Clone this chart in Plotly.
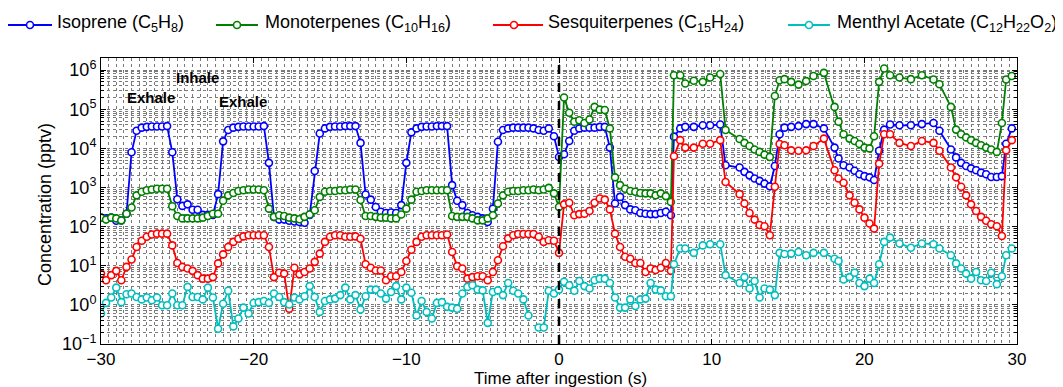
import plotly.graph_objects as go

# ---------------- data ----------------
time_s = [
    -30.0, -29.67, -29.33, -29.0, -28.67, -28.33, -28.0, -27.67, -27.33, -27.0, -26.67, -26.33,
    -26.0, -25.67, -25.33, -25.0, -24.67, -24.33, -24.0, -23.67, -23.33, -23.0, -22.67, -22.33,
    -22.0, -21.67, -21.33, -21.0, -20.67, -20.33, -20.0, -19.67, -19.33, -19.0, -18.67, -18.33,
    -18.0, -17.67, -17.33, -17.0, -16.67, -16.33, -16.0, -15.67, -15.33, -15.0, -14.67, -14.33,
    -14.0, -13.67, -13.33, -13.0, -12.67, -12.33, -12.0, -11.67, -11.33, -11.0, -10.67, -10.33,
    -10.0, -9.67, -9.33, -9.0, -8.67, -8.33, -8.0, -7.67, -7.33, -7.0, -6.67, -6.33,
    -6.0, -5.67, -5.33, -5.0, -4.67, -4.33, -4.0, -3.67, -3.33, -3.0, -2.67, -2.33,
    -2.0, -1.67, -1.33, -1.0, -0.67, -0.33, 0.0, 0.33, 0.67, 1.0, 1.33, 1.67,
    2.0, 2.33, 2.67, 3.0, 3.33, 3.67, 4.0, 4.33, 4.67, 5.0, 5.33, 5.67,
    6.0, 6.33, 6.67, 7.0, 7.33,
    7.53, 7.94, 8.27, 8.83, 9.42, 9.90, 10.56, 10.91, 11.83, 12.15, 12.48, 12.81,
    13.14, 13.46, 13.81, 14.14, 14.45, 14.77, 15.21, 15.69, 16.19, 16.67, 17.35, 18.05,
    18.31, 18.64, 19.03, 19.36, 19.68, 20.01, 20.34, 20.64, 20.97, 21.30, 21.69, 22.30,
    23.05, 23.77, 24.53, 24.92, 25.67, 26.01, 26.34, 26.67, 26.99, 27.32, 27.65, 27.98,
    28.31, 28.68, 29.01, 29.29, 29.66,
]

# concentrations as log10(pptv)
isoprene_log10 = [
    2.23, 2.21, 2.23, 2.15, 2.16, 2.33, 3.90, 4.45, 4.53, 4.55,
    4.56, 4.56, 4.56, 4.57, 3.90, 2.70, 2.53, 2.57, 2.43, 2.43,
    2.30, 2.30, 2.30, 2.83, 4.18, 4.47, 4.53, 4.55, 4.56, 4.56,
    4.56, 4.56, 4.57, 3.63, 2.25, 2.18, 2.18, 2.15, 2.13, 2.12,
    2.10, 2.30, 3.42, 4.38, 4.51, 4.55, 4.56, 4.56, 4.57, 4.57,
    4.57, 4.14, 2.82, 2.69, 2.50, 2.38, 2.35, 2.36, 2.35, 2.55,
    3.63, 4.41, 4.51, 4.55, 4.56, 4.56, 4.57, 4.57, 4.57, 3.06,
    2.66, 2.55, 2.35, 2.29, 2.25, 2.21, 2.12, 2.46, 4.17, 4.47,
    4.51, 4.53, 4.53, 4.53, 4.53, 4.51, 4.47, 4.45, 4.51, 4.31,
    3.78, 3.85, 4.19, 4.45, 4.51, 4.53, 4.53, 4.53, 4.55, 4.55,
    4.02, 2.59, 2.76, 2.55, 2.44, 2.42, 2.35, 2.33, 2.32, 2.32,
    2.35, 2.38, 2.29,
    4.30, 4.51, 4.55, 4.55, 4.59, 4.59, 4.61, 3.57, 3.51, 3.40, 3.31, 3.23,
    3.17, 3.10, 3.03, 3.55, 4.36, 4.53, 4.55, 4.57, 4.62, 4.62, 4.51, 4.02,
    3.74, 3.57, 3.51, 3.43, 3.34, 3.29, 3.26, 3.19, 3.94, 4.48, 4.61, 4.59,
    4.59, 4.62, 4.65, 4.45, 3.97, 3.77, 3.63, 3.55, 3.49, 3.44, 3.38, 3.34,
    3.27, 3.27, 3.29, 4.12, 4.51,
]

monoterpenes_log10 = [
    2.23, 2.18, 2.23, 2.21, 2.16, 2.33, 2.49, 2.80, 2.89, 2.93,
    2.95, 2.97, 2.97, 2.97, 2.52, 2.27, 2.21, 2.21, 2.21, 2.21,
    2.23, 2.27, 2.33, 2.33, 2.66, 2.80, 2.86, 2.91, 2.93, 2.95,
    2.95, 2.95, 2.93, 2.46, 2.25, 2.29, 2.27, 2.23, 2.21, 2.19,
    2.25, 2.31, 2.42, 2.76, 2.89, 2.91, 2.91, 2.93, 2.93, 2.95,
    2.95, 2.68, 2.27, 2.27, 2.25, 2.23, 2.23, 2.21, 2.21, 2.31,
    2.46, 2.69, 2.89, 2.91, 2.93, 2.93, 2.93, 2.93, 2.93, 2.27,
    2.25, 2.25, 2.25, 2.21, 2.16, 2.16, 2.21, 2.29, 2.59, 2.80,
    2.89, 2.91, 2.91, 2.93, 2.93, 2.95, 2.93, 2.95, 2.99, 2.85,
    2.50, 5.30, 4.91, 4.68, 4.72, 4.65, 4.74, 5.06, 4.99, 4.98,
    4.51, 3.26, 3.06, 2.97, 2.91, 2.89, 2.86, 2.85, 2.85, 2.80,
    2.85, 2.78, 2.63,
    5.87, 5.87, 5.66, 5.73, 5.70, 5.81, 5.90, 4.47, 4.24, 4.14, 4.06, 3.97,
    3.91, 3.84, 3.78, 5.34, 5.74, 5.77, 5.70, 5.63, 5.72, 5.85, 5.93, 5.06,
    4.68, 4.36, 4.25, 4.19, 4.11, 4.02, 4.00, 4.31, 5.70, 6.04, 5.87, 5.81,
    5.77, 5.87, 5.76, 5.64, 5.06, 4.48, 4.36, 4.28, 4.21, 4.14, 4.08, 4.02,
    3.97, 3.91, 4.65, 5.76, 5.85,
]

sesquiterpenes_log10 = [
    0.80, 0.63, 0.76, 0.87, 0.63, 0.97, 1.16, 1.48, 1.64, 1.74,
    1.80, 1.82, 1.82, 1.82, 1.52, 1.07, 0.97, 0.93, 0.87, 0.76,
    0.67, 0.67, 0.71, 1.06, 1.29, 1.48, 1.61, 1.69, 1.75, 1.78,
    1.78, 1.78, 1.78, 1.48, 0.71, 0.82, 0.80, -0.10, 0.95, 0.78,
    0.84, 0.93, 1.10, 1.31, 1.61, 1.74, 1.78, 1.78, 1.74, 1.74,
    1.75, 1.69, 1.04, 0.95, 0.88, 0.88, 0.63, 0.73, 0.73, 0.84,
    1.12, 1.41, 1.61, 1.74, 1.78, 1.78, 1.78, 1.78, 1.80, 1.35,
    0.99, 0.93, 0.67, 0.71, 0.73, 0.73, 0.63, 0.84, 1.14, 1.50,
    1.70, 1.78, 1.81, 1.81, 1.81, 1.81, 1.74, 1.61, 1.65, 1.64,
    1.33, 2.57, 2.61, 2.29, 2.32, 2.33, 2.40, 2.61, 2.72, 2.69,
    2.44, 1.82, 1.48, 1.23, 1.18, 1.07, 1.07, 0.84, 0.93, 0.89,
    0.95, 1.07, 0.87,
    3.80, 4.21, 4.02, 4.02, 4.12, 4.12, 4.21, 3.14, 2.83, 2.59, 2.35, 2.18,
    2.04, 2.01, 1.78, 3.02, 4.11, 4.08, 3.95, 3.94, 3.95, 4.06, 4.25, 3.44,
    3.23, 3.12, 2.80, 2.61, 2.44, 2.23, 2.08, 1.95, 3.61, 4.36, 4.36, 4.14,
    4.06, 4.19, 4.14, 3.94, 3.51, 3.26, 3.02, 2.80, 2.57, 2.40, 2.25, 2.15,
    2.06, 2.01, 1.76, 3.95, 4.21,
]

menthyl_acetate_log10 = [
    -0.22, 0.05, 0.19, 0.44, 0.07, 0.27, 0.29, 0.20, 0.14, 0.19,
    0.12, 0.19, -0.01, -0.01, 0.29, -0.01, -0.01, 0.46, 0.20, 0.20,
    0.14, 0.44, 0.19, -0.61, 0.03, 0.36, -0.55, -0.35, -0.07, -0.22,
    0.05, 0.07, 0.10, 0.05, 0.29, 0.20, 0.07, 0.01, 0.19, 0.14,
    0.22, 0.48, 0.20, -0.18, 0.10, 0.14, 0.16, 0.25, 0.44, 0.14,
    0.25, -0.12, 0.22, 0.39, 0.39, 0.29, 0.16, 0.33, 0.48, 0.14,
    0.44, 0.31, -0.27, 0.10, -0.18, -0.35, 0.05, 0.07, -0.05, -0.07,
    -0.10, 0.29, 0.46, 0.50, 0.39, 0.37, -0.46, 0.33, 0.37, 0.25,
    0.56, 0.36, 0.29, 0.14, -0.27, None, -0.58, -0.58, 0.36, 0.29,
    0.39, 0.59, 0.50, 0.36, 0.61, 0.48, 0.42, 0.63, 0.67, 0.67,
    0.56, 0.19, -0.07, -0.07, 0.14, -0.03, 0.14, 0.16, 0.56, 0.39,
    0.37, 0.22, 0.22,
    1.04, 1.44, 1.44, 1.33, 1.52, 1.55, 1.55, 0.76, 0.56, 0.71, 0.42, 0.61,
    0.19, 0.42, 0.39, 0.25, 1.33, 1.30, 1.31, 1.35, 1.27, 1.33, 1.33, 1.18,
    1.12, 0.65, 0.71, 0.82, 0.56, 0.48, 0.67, 0.56, 1.04, 1.61, 1.72, 1.57,
    1.46, 1.57, 1.55, 1.44, 1.27, 1.06, 0.93, 0.80, 0.67, 0.84, 0.63, 0.61,
    0.82, 0.53, 0.73, 1.27, 1.44,
]

series_names = [
    "Isoprene (C<sub>5</sub>H<sub>8</sub>)",
    "Monoterpenes (C<sub>10</sub>H<sub>16</sub>)",
    "Sesquiterpenes (C<sub>15</sub>H<sub>24</sub>)",
    "Menthyl Acetate (C<sub>12</sub>H<sub>22</sub>O<sub>2</sub>)",
]
series_colors = ["#0000FF", "#008000", "#FF0000", "#00BFBF"]
series_values = [isoprene_log10, monoterpenes_log10, sesquiterpenes_log10, menthyl_acetate_log10]

y_tick_exponents = [-1, 0, 1, 2, 3, 4, 5, 6]
x_tick_values = [-30, -20, -10, 0, 10, 20, 30]
x_tick_labels = ["\u221230", "\u221220", "\u221210", "0", "10", "20", "30"]

x_title = "Time after ingestion (s)"
y_title = "Concentration (pptv)"
breath_labels = [("Exhale", -26.7, 5.31), ("Inhale", -23.7, 5.82), ("Exhale", -20.7, 5.21)]

# ---------------- figure ----------------
# The page body adds an 8 px offset, so all pixel targets (screen coords) are shifted by OFF.
OFF = 8
W, H = 1055, 379
L, T = 101 - OFF, 58 - OFF
R = W - (1017 - OFF)
B = H - (344 - OFF)
PW, PH = W - L - R, H - T - B
FONT = "Liberation Sans, Arial, Helvetica, sans-serif"
GRID = "#7a7a7a"


def px_x(px):  # screen pixel -> paper x
    return (px - OFF - L) / PW


def px_y(py):  # screen pixel -> paper y
    return (H - B - (py - OFF)) / PH


def to_pptv(vals):
    return [None if v is None else 10 ** v for v in vals]


fig = go.Figure()
for name, vals, col in zip(series_names, series_values, series_colors):
    fig.add_trace(go.Scatter(
        x=time_s, y=to_pptv(vals), mode="lines+markers", name=name,
        line=dict(color=col, width=1.8),
        marker=dict(symbol="circle", size=7, color="white", line=dict(color=col, width=1.6)),
        showlegend=False,
    ))

shapes = [dict(type="line", xref="x", yref="paper", x0=0, x1=0, y0=0, y1=1,
               line=dict(color="black", width=2.5, dash="dash"), layer="above")]
annotations = []

# manual legend across the top
legend_geom = [  # line start, marker, line end, text start (screen px)
    (8, 30, 52, 56),
    (216, 237, 258, 264),
    (493, 514, 543, 547),
    (788, 809, 830, 836),
]
ly = px_y(25)
for (x0, xm, x1, xt), name, col in zip(legend_geom, series_names, series_colors):
    shapes.append(dict(type="line", xref="paper", yref="paper", x0=px_x(x0), x1=px_x(x1),
                       y0=ly, y1=ly, line=dict(color=col, width=1.8)))
    shapes.append(dict(type="circle", xref="paper", yref="paper",
                       xsizemode="pixel", ysizemode="pixel", xanchor=px_x(xm), yanchor=ly,
                       x0=-3.5, x1=3.5, y0=-3.5, y1=3.5,
                       fillcolor="white", line=dict(color=col, width=1.6)))
    annotations.append(dict(text=name, xref="paper", yref="paper", x=px_x(xt), y=px_y(23),
                            xanchor="left", yanchor="middle", showarrow=False, borderpad=0,
                            font=dict(family=FONT, size=18, color="black")))

for txt, tx, ty in breath_labels:
    annotations.append(dict(text="<b>%s</b>" % txt, x=tx, y=ty, xref="x", yref="y",
                            showarrow=False, font=dict(family=FONT, size=15, color="black")))

# axis titles
annotations.append(dict(text=x_title, xref="paper", yref="paper", x=px_x(560), y=px_y(378),
                        xanchor="center", yanchor="middle", showarrow=False, borderpad=0,
                        font=dict(family=FONT, size=17, color="black")))
annotations.append(dict(text=y_title, xref="paper", yref="paper", x=px_x(45), y=px_y(205),
                        xanchor="center", yanchor="middle", textangle=-90, showarrow=False,
                        font=dict(family=FONT, size=18, color="black")))

minor_y = [k * 10 ** e for e in range(-1, 7) for k in range(2, 10)]

fig.update_layout(
    width=W, height=H,
    margin=dict(l=L, r=R, t=T, b=B, pad=0),
    paper_bgcolor="white", plot_bgcolor="white",
    font=dict(family=FONT, size=18, color="black"),
    shapes=shapes, annotations=annotations,
    xaxis=dict(
        automargin=False,
        range=[-30, 30], tickmode="array", tickvals=x_tick_values, ticktext=x_tick_labels,
        ticks="inside", ticklen=5, tickcolor="black", showline=True, linecolor="black",
        linewidth=1, mirror="ticks", zeroline=False,
        showgrid=True, gridcolor=GRID, griddash="dot", gridwidth=1,
        minor=dict(dtick=0.5, showgrid=True, gridcolor=GRID, griddash="dot", ticks=""),
        tickfont=dict(size=17),
    ),
    yaxis=dict(
        automargin=False,
        type="log", range=[-1, 6.31], tickmode="array",
        tickvals=[10 ** e for e in y_tick_exponents],
        ticktext=["10<sup>%s</sup>" % str(e).replace("-", "\u2212") for e in y_tick_exponents],
        ticks="inside", ticklen=5, tickcolor="black", showline=True, linecolor="black",
        linewidth=1, mirror="ticks", zeroline=False,
        showgrid=True, gridcolor=GRID, griddash="dot", gridwidth=1,
        minor=dict(tickmode="array", tickvals=minor_y, showgrid=True, gridcolor=GRID,
                   griddash="dot", ticks="inside", ticklen=3, tickcolor="black"),
        tickfont=dict(size=18),
    ),
)

fig.write_html("out.html")
